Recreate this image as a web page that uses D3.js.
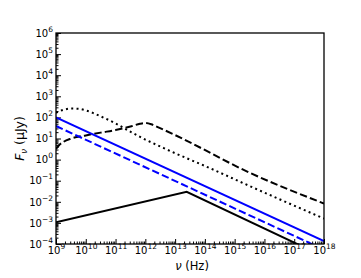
<!DOCTYPE html>
<html>
<head>
<meta charset="utf-8">
<script src="https://cdn.jsdelivr.net/npm/d3@7"></script>
<style>
  body { margin: 0; background: #fff; }
  text { font-family: "DejaVu Sans", sans-serif; }
  .axis path { display: none; }
  .axis line { stroke: #000; stroke-width: 1; }
</style>
</head>
<body>
<script>
// frequencies (Hz) and flux densities (uJy)
const blueNu = [1e9, 1e18];
const blueSolidF = [100, 1.38e-4];
const blueDashedF = [39, 5.4e-5];

const blackSolidNu = [1e9, 2.45e13, 1e18];
const blackSolidF = [1.07e-3, 0.030, 2.5e-5];

const blackDashedNu = [1e9, 1.26e9, 1.78e9, 3.16e9, 1e10, 3.16e10, 1e11, 3.16e11, 6.6e11, 1e12, 1.58e12, 2.5e12, 1e13, 3.16e15, 1e18];
const blackDashedF = [3.2, 4.8, 6.9, 9.8, 14, 19, 25, 37, 50, 54, 47, 35.5, 14.5, 0.24, 0.0083];

const blackDottedNu = [1e9, 1.78e9, 3.16e9, 5.6e9, 1e10, 3.16e10, 1e11, 3.16e11, 1e12, 3.16e12, 1e13, 3.16e13, 1e14, 3.16e15, 1e18];
const blackDottedF = [166, 229, 263, 257, 214, 112, 52, 21, 8.9, 4.2, 2.0, 1.0, 0.5, 0.056, 0.0016];

const xTicks = [1e9, 1e10, 1e11, 1e12, 1e13, 1e14, 1e15, 1e16, 1e17, 1e18];
const yTicks = [1e-4, 1e-3, 1e-2, 1e-1, 1e0, 1e1, 1e2, 1e3, 1e4, 1e5, 1e6];

const W = 361, H = 278;
const margin = {left: 56, right: 324, top: 33, bottom: 244};

const x = d3.scaleLog().domain([1e9, 1e18]).range([margin.left, margin.right]);
const y = d3.scaleLog().domain([1e-4, 1e6]).range([margin.bottom, margin.top]);

const svg = d3.select('body').append('svg')
    .attr('width', W)
    .attr('height', H);

svg.append('defs').append('clipPath')
    .attr('id', 'plot')
    .append('rect')
    .attr('x', margin.left).attr('y', margin.top)
    .attr('width', margin.right - margin.left).attr('height', margin.bottom - margin.top);

function minorValues(lo, hi) {
    const out = [];
    for (let e = lo; e < hi; e++)
        for (let k = 2; k <= 9; k++) out.push(k * Math.pow(10, e));
    return out;
}

function supLabel(sel) {
    sel.each(function(d) {
        const t = d3.select(this);
        const e = Math.round(Math.log10(d));
        t.text('');
        t.append('tspan').text('10');
        t.append('tspan').attr('dy', -5).attr('font-size', 7.5)
            .text(e < 0 ? '\u2212' + (-e) : e);
    });
}

// minor ticks
svg.append('g')
    .attr('class', 'axis')
    .attr('transform', 'translate(' + margin.left + ',0)')
    .call(d3.axisLeft(y).tickValues(minorValues(-4, 6)).tickSize(-2.5).tickFormat(''));

svg.append('g')
    .attr('class', 'axis')
    .attr('transform', 'translate(0,' + margin.bottom + ')')
    .call(d3.axisBottom(x).tickValues(minorValues(9, 18)).tickSize(-2.5).tickFormat(''));

// major ticks
const yAxis = svg.append('g')
    .attr('class', 'axis')
    .attr('transform', 'translate(' + margin.left + ',0)')
    .call(d3.axisLeft(y).tickValues(yTicks).tickSize(-5).tickPadding(3));
yAxis.selectAll('text').attr('font-size', 10).attr('fill', '#000').call(supLabel);

const xAxis = svg.append('g')
    .attr('class', 'axis')
    .attr('transform', 'translate(0,' + margin.bottom + ')')
    .call(d3.axisBottom(x).tickValues(xTicks).tickSize(-5).tickPadding(2.5));
xAxis.selectAll('text').attr('font-size', 10).attr('fill', '#000').call(supLabel);

const series = [
    {nu: blackDashedNu, f: blackDashedF, color: '#000', dash: '7.4,3.2', curve: d3.curveMonotoneX},
    {nu: blackDottedNu, f: blackDottedF, color: '#000', dash: '2,3.3', curve: d3.curveMonotoneX},
    {nu: blueNu, f: blueSolidF, color: '#0000ff', dash: null, curve: d3.curveLinear},
    {nu: blueNu, f: blueDashedF, color: '#0000ff', dash: '7.4,3.2', curve: d3.curveLinear},
    {nu: blackSolidNu, f: blackSolidF, color: '#000', dash: null, curve: d3.curveLinear}
];

svg.append('g')
    .attr('clip-path', 'url(#plot)')
    .selectAll('path')
    .data(series)
    .enter().append('path')
    .attr('fill', 'none')
    .attr('stroke', d => d.color)
    .attr('stroke-width', 2)
    .attr('stroke-dasharray', d => d.dash)
    .attr('d', function(d) {
        return d3.line()
            .x(p => x(p[0]))
            .y(p => y(p[1]))
            .curve(d.curve)(d.nu.map((v, i) => [v, d.f[i]]));
    });

// frame
svg.append('rect')
    .attr('x', margin.left).attr('y', margin.top)
    .attr('width', margin.right - margin.left).attr('height', margin.bottom - margin.top)
    .attr('fill', 'none')
    .attr('stroke', '#000')
    .attr('stroke-width', 1.3);

// axis labels
const xl = svg.append('text')
    .attr('x', (margin.left + margin.right) / 2 + 2)
    .attr('y', 270)
    .attr('text-anchor', 'middle')
    .attr('font-size', 11.5);
xl.append('tspan').attr('font-style', 'italic').text('\u03bd');
xl.append('tspan').text(' (Hz)');

const yl = svg.append('text')
    .attr('transform', 'translate(24,' + ((margin.top + margin.bottom) / 2) + ') rotate(-90)')
    .attr('text-anchor', 'middle')
    .attr('font-size', 12.5);
yl.append('tspan').attr('font-style', 'italic').text('F');
yl.append('tspan').attr('font-style', 'italic').attr('font-size', 8.5).attr('dy', 2.5).text('\u03bd');
yl.append('tspan').attr('dy', -2.5).text(' (\u03bcJy)');
</script>
</body>
</html>
